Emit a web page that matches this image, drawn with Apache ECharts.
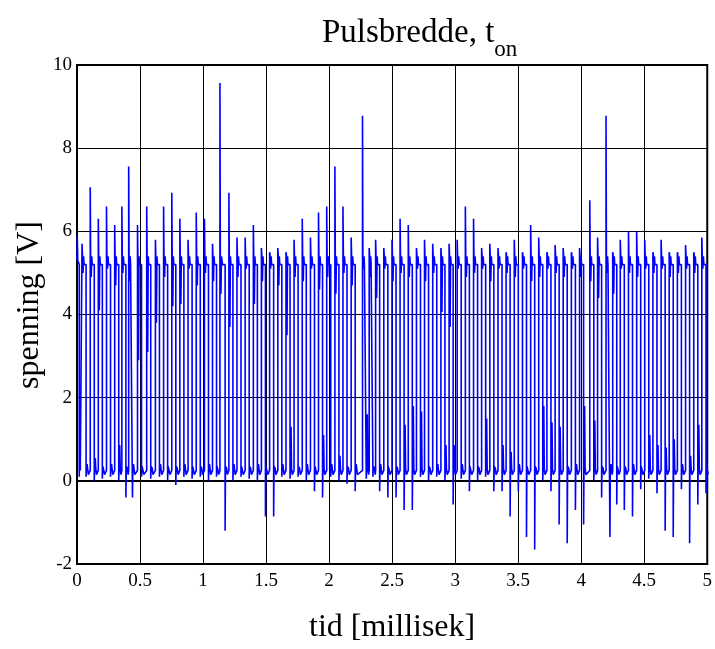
<!DOCTYPE html>
<html>
<head>
<meta charset="utf-8">
<script src="https://cdn.jsdelivr.net/npm/echarts@6/dist/echarts.min.js"></script>
<style>
  html, body { margin: 0; padding: 0; background: #fff; }
  #chart1 { width: 715px; height: 649px; }
</style>
</head>
<body>
<div id="chart1"></div>
<script>
// pulse edges (ms)
var riseTimes = [
    0.040, 0.105, 0.169, 0.234, 0.299, 0.356, 0.410, 0.480, 0.553, 0.622,
    0.687, 0.752, 0.816, 0.881, 0.946, 1.011, 1.075, 1.134, 1.205, 1.269,
    1.334, 1.399, 1.463, 1.528, 1.593, 1.658, 1.722, 1.787, 1.852, 1.916,
    1.981, 2.046, 2.110, 2.175, 2.265, 2.318, 2.369, 2.434, 2.499, 2.563,
    2.628, 2.693, 2.757, 2.822, 2.887, 2.952, 3.016, 3.081, 3.146, 3.210,
    3.275, 3.340, 3.404, 3.469, 3.534, 3.599, 3.663, 3.728, 3.793, 3.857,
    3.922, 3.987, 4.068, 4.130, 4.197, 4.250, 4.310, 4.375, 4.440, 4.504,
    4.569, 4.634, 4.698, 4.763, 4.828, 4.893, 4.957
];
var fallTimes = [
    0.072, 0.137, 0.201, 0.266, 0.331, 0.388, 0.440, 0.512, 0.585, 0.654,
    0.719, 0.784, 0.848, 0.913, 0.978, 1.043, 1.107, 1.175, 1.237, 1.301,
    1.366, 1.431, 1.495, 1.560, 1.625, 1.690, 1.754, 1.819, 1.884, 1.948,
    2.013, 2.078, 2.142, 2.207, 2.295, 2.348, 2.401, 2.466, 2.531, 2.595,
    2.660, 2.725, 2.789, 2.854, 2.919, 2.984, 3.048, 3.113, 3.178, 3.242,
    3.307, 3.372, 3.436, 3.501, 3.566, 3.631, 3.695, 3.760, 3.825, 3.889,
    3.954, 4.019, 4.100, 4.162, 4.228, 4.282, 4.342, 4.407, 4.472, 4.536,
    4.601, 4.666, 4.730, 4.795, 4.860, 4.925, 4.990
];
// overshoot at each rising edge (V)
var overshoot = [
    5.7, 7.06, 6.3, 6.6, 6.15, 6.6, 7.56, 6.15, 6.6, 5.8,
    6.6, 6.93, 6.3, 5.8, 6.45, 6.3, 5.7, 9.57, 6.93, 5.85,
    5.85, 6.15, 5.6, 5.5, 5.6, 5.5, 5.8, 6.3, 5.85, 6.45,
    6.6, 7.56, 6.6, 5.85, 8.78, 5.6, 5.8, 5.6, 5.8, 6.3,
    6.15, 5.6, 5.8, 5.7, 5.6, 5.7, 5.8, 6.6, 6.3, 5.6,
    5.7, 5.6, 5.5, 5.8, 5.5, 6.15, 5.85, 5.5, 5.67, 5.6,
    5.5, 5.6, 6.75, 5.85, 8.78, 5.5, 5.8, 6.0, 6.0, 5.8,
    5.5, 5.8, 5.5, 5.5, 5.67, 5.5, 5.85
];
// undershoot at each falling edge (V)
var undershoot = [
    0.1, 0.0, 0.05, 0.1, 0.0, -0.4, -0.4, 0.1, 0.05, 0.1,
    0.0, -0.1, 0.1, 0.05, 0.1, 0.0, 0.1, -1.2, 0.0, 0.1,
    0.05, 0.0, -0.86, -0.86, 0.1, 0.05, 0.1, 0.0, -0.25, -0.4,
    0.1, 0.0, -0.07, -0.25, 0.05, 0.1, -0.25, -0.4, -0.4, -0.7,
    -0.7, 0.1, 0.0, 0.1, 0.0, -0.57, 0.05, -0.25, 0.0, 0.1,
    -0.25, -0.25, -0.86, -0.25, -1.35, -1.65, 0.0, -0.25, -1.05, -1.5,
    -0.7, -1.05, 0.0, -0.4, -1.35, -0.57, -0.7, -0.86, -0.2, 0.05,
    -0.3, -1.2, -1.35, -0.2, -1.5, -0.57, -0.3
];
// ringing dip on the high level
var sagLevel = [
    5.0, 4.9, 4.1, 5.1, 4.7, 5.0, 4.8, 2.9, 3.1, 3.8,
    4.9, 4.2, 4.25, 5.1, 4.7, 5.0, 4.8, 4.5, 3.7, 4.9,
    5.1, 4.25, 4.8, 5.1, 4.7, 3.5, 4.9, 4.8, 5.1, 4.6,
    4.9, 4.5, 5.0, 4.7, 5.1, 4.9, 4.4, 5.1, 4.8, 5.0,
    4.9, 5.1, 4.8, 5.0, 4.06, 3.7, 5.1, 4.9, 5.0, 5.1,
    4.8, 5.1, 5.0, 4.9, 5.1, 4.8, 4.9, 5.1, 5.0, 4.9,
    5.1, 4.9, 4.8, 4.4, 5.0, 4.5, 5.1, 5.0, 4.9, 5.1,
    5.0, 5.1, 4.9, 5.0, 5.1, 5.0, 5.1
];
// ringing bump on the low level
var bumpLevel = [
    0.4, 0.55, 0.3, 0.4, 0.86, 0.35, 0.4, 0.3, 0.35, 0.4,
    0.3, 0.35, 0.4, 0.3, 0.35, 0.4, 0.3, 0.35, 0.4, 0.3,
    0.35, 0.4, 0.3, 0.35, 0.4, 1.3, 0.35, 0.4, 0.3, 1.1,
    0.4, 0.6, 0.35, 0.4, 1.6, 0.35, 0.4, 0.3, 0.35, 1.35,
    1.8, 1.67, 0.35, 0.4, 0.86, 0.86, 0.4, 0.3, 0.35, 1.5,
    0.35, 0.86, 0.7, 0.4, 0.3, 0.35, 1.8, 1.4, 1.3, 0.35,
    0.4, 1.8, 1.45, 0.35, 0.4, 0.3, 0.35, 0.4, 0.3, 1.1,
    0.86, 0.8, 1.0, 0.4, 0.6, 1.35, 0.3
];
var startTrace = [[0, 5.3], [0.002, 5.9], [0.006, 5.3], [0.018, 5.2], [0.018, 0.1], [0.022, 1.5], [0.026, 0.25]];

var xTicks = ['0', '0.5', '1', '1.5', '2', '2.5', '3', '3.5', '4', '4.5', '5'];

var HIGH = 5.3, LOW = 0.25;

function buildTrace() {
    var pts = startTrace.slice();
    for (var i = 0; i < riseTimes.length; i++) {
        var r = riseTimes[i], f = fallTimes[i];
        var mid = (r + f) / 2;
        pts.push([r, LOW]);
        pts.push([r, overshoot[i]]);
        pts.push([r + 0.003, HIGH + 0.15]);
        pts.push([r + 0.008, sagLevel[i]]);
        pts.push([r + 0.012, HIGH + 0.1]);
        pts.push([mid, HIGH + 0.1]);
        pts.push([mid, HIGH - 0.1]);
        pts.push([f, HIGH - 0.1]);
        pts.push([f, undershoot[i]]);
        pts.push([f + 0.003, LOW + 0.1]);
        pts.push([f + 0.008, bumpLevel[i]]);
        pts.push([f + 0.012, LOW + 0.05]);
        pts.push([f + 0.018, LOW - 0.1]);
    }
    pts.push([5, LOW]);
    return pts;
}

var serifFont = '"Liberation Serif", "DejaVu Serif", serif';
var chart = echarts.init(document.getElementById('chart1'), null, { renderer: 'canvas' });

var option = {
    backgroundColor: '#fff',
    animation: false,
    title: {
        text: '{a|Pulsbredde, t}{b|on}',
        left: 317,
        top: 12,
        textStyle: {
            fontWeight: 'normal',
            rich: {
                a: { fontFamily: serifFont, fontSize: 33, fontWeight: 'normal', color: '#000', lineHeight: 38, verticalAlign: 'top' },
                b: { fontFamily: serifFont, fontSize: 23, fontWeight: 'normal', color: '#000', lineHeight: 23, verticalAlign: 'top', padding: [21, 0, 0, 0] }
            }
        }
    },
    graphic: [{
        type: 'text',
        x: 30,
        y: 305,
        rotation: Math.PI / 2,
        style: {
            text: 'spenning [V]',
            font: '32px "Liberation Serif", "DejaVu Serif", serif',
            fill: '#000',
            align: 'center',
            verticalAlign: 'middle'
        }
    }],
    grid: {
        left: 77, right: 3, top: 65, bottom: 82,
        show: true, borderColor: '#000', borderWidth: 2, backgroundColor: 'transparent'
    },
    xAxis: {
        type: 'value',
        min: 0, max: 5, interval: 0.5,
        name: 'tid [millisek]',
        nameLocation: 'middle',
        nameGap: 48,
        nameTextStyle: { fontFamily: serifFont, fontSize: 32, color: '#000' },
        axisLine: { show: true, lineStyle: { color: '#000', width: 2 } },
        axisTick: { show: false },
        axisLabel: {
            fontFamily: serifFont, fontSize: 19, color: '#000', margin: 8,
            formatter: function(v) { return xTicks[Math.round(v / 0.5)]; }
        },
        splitLine: { show: true, lineStyle: { color: '#000', width: 1 } }
    },
    yAxis: {
        type: 'value',
        min: -2, max: 10, interval: 2,
        axisLine: { show: true, lineStyle: { color: '#000', width: 2 } },
        axisTick: { show: false },
        axisLabel: { fontFamily: serifFont, fontSize: 19, color: '#000', margin: 5 },
        splitLine: { show: true, lineStyle: { color: '#000', width: 1 } }
    },
    series: [{
        name: 'spenning',
        type: 'line',
        data: buildTrace(),
        showSymbol: false,
        symbol: 'none',
        lineStyle: { color: '#0000ff', width: 1.6 },
        clip: true
    }]
};

chart.setOption(option);
</script>
</body>
</html>
